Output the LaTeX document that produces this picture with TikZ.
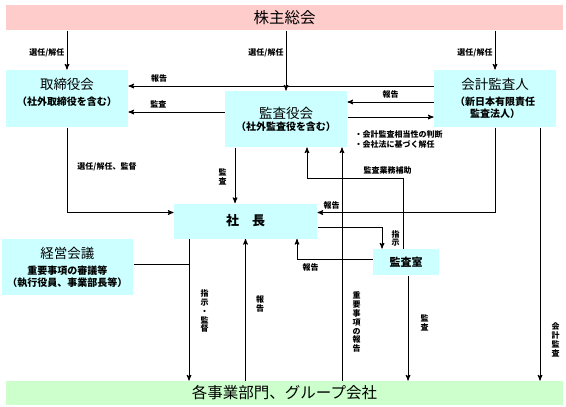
\documentclass[tikz,border=0pt]{standalone}
\usepackage{fontspec}
\setmainfont{Noto Sans CJK JP}
\usetikzlibrary{arrows}
\usetikzlibrary{positioning}
\definecolor{boxpink}{HTML}{FFCCCC}
\definecolor{boxcyan}{HTML}{CCFFFF}
\definecolor{boxgreen}{HTML}{CCFFCC}
\tikzset{
    box/.style={
           rectangle,
           fill=boxcyan,
           inner sep=2pt,
           align=center,
           text centered,
           },
    lbl/.style={
           font=\bfseries\fontsize{8}{10}\selectfont,
           inner sep=1pt,
           },
    vlbl/.style={
           font=\bfseries\fontsize{8}{8.8}\selectfont,
           align=center,
           inner sep=1pt,
           },
}

\begin{document}
\begin{tikzpicture}[->,>=stealth',x=1pt,y=-1pt,line width=1pt]
\useasboundingbox (0,0) rectangle (566,407);
  \node[box,
 fill=boxpink,
 minimum width=557pt,
 minimum height=25pt] (kabunushi) at (284.5,17.5)
 {\fontsize{15.5}{18}\selectfont 株主総会};
  \node[box,
 fill=boxgreen,
 minimum width=557pt,
 minimum height=24pt] (jigyo) at (284.5,393)
 {\fontsize{15.5}{18}\selectfont 各事業部門、グループ会社};
  \node[box,
 minimum width=122pt,
 minimum height=57pt] (torishimari) at (67,98.5)
 {%
  \fontsize{13.5}{16}\selectfont 取締役会\\[4pt]
  \bfseries\fontsize{10}{12}\selectfont （社外取締役を含む）\\[2pt]
 };
  \node[box,
 minimum width=122pt,
 minimum height=56pt] (kansayaku) at (286,119)
 {%
  \fontsize{13.5}{16}\selectfont 監査役会\\
  \bfseries\fontsize{10}{12}\selectfont （社外監査役を含む）
 };
  \node[box,
 minimum width=122pt,
 minimum height=57pt] (kaikei) at (495,98.5)
 {%
  \fontsize{13.5}{16}\selectfont 会計監査人\\[4pt]
  \bfseries\fontsize{10}{13}\selectfont （新日本有限責任\\
  \bfseries\fontsize{10}{13}\selectfont 監査法人）
 };
  \node[box,
 minimum width=143pt,
 minimum height=35pt] (shacho) at (245.5,221)
 {\bfseries\fontsize{13}{16}\selectfont 社　長};
  \node[box,
 minimum width=131pt,
 minimum height=56pt] (keiei) at (67.5,267)
 {%
  \fontsize{13.5}{16}\selectfont 経営会議\\[4pt]
  \bfseries\fontsize{10}{14}\selectfont 重要事項の審議等\\
  \bfseries\fontsize{10}{14}\selectfont （執行役員、事業部長等）
 };
  \node[box,
 minimum width=66pt,
 minimum height=26pt] (kansashitsu) at (406,262)
 {\bfseries\fontsize{11}{13}\selectfont 監査室};
  \node[lbl,
 align=left,
 anchor=north west] (hantei) at (353,129)
 {・会計監査相当性の判断\\・会社法に基づく解任};

 % branch points on the lines
 \coordinate (hojo) at (403,178);
 \coordinate (shiji) at ([xshift=-56.5pt]shacho.south);
 \coordinate (keiei-out) at ([yshift=3pt]keiei.east);
 \coordinate (juyo) at ([xshift=56pt]kansayaku.south);
 \coordinate (kaikei-out) at ([xshift=45pt]kaikei.south);

\path
  (kabunushi.south -| torishimari.north) edge
    node[lbl,pos=0.57,left=1pt] {選任/解任}
    (torishimari.north)
  (kabunushi.south -| kansayaku.north) edge
    node[lbl,pos=0.38,left=1pt] {選任/解任}
    (kansayaku.north)
  (kabunushi.south -| kaikei.north) edge
    node[lbl,pos=0.57,left=1pt] {選任/解任}
    (kaikei.north)
  ([yshift=12.5pt]kaikei.west) edge
    node[lbl,pos=0.9,above=2pt] {報告}
    ([yshift=12.5pt]torishimari.east)
  ([yshift=7pt]kansayaku.west) edge
    node[lbl,pos=0.69,above=2pt] {監査}
    ([yshift=-13.5pt]torishimari.east)
  ([yshift=-3.5pt]kaikei.west) edge
    node[lbl,pos=0.5,above=2pt] {報告}
    ([yshift=17pt]kansayaku.east)
  ([yshift=2pt]kansayaku.east) edge
    ([yshift=-18.5pt]kaikei.west)
  ([xshift=-51pt]kansayaku.south) edge
    node[vlbl,pos=0.53,left=7pt] {監\\査}
    ([xshift=-10.5pt]shacho.north)
  (shiji) edge
    node[vlbl,pos=0.51,right=10pt] {指\\示\\・\\監\\督}
    (shiji |- jigyo.north)
  (jigyo.north -| shacho.south) edge
    node[vlbl,pos=0.54,right=9pt] {報\\告}
    (shacho.south)
  (jigyo.north -| juyo) edge
    node[vlbl,pos=0.25,right=9pt] {重\\要\\事\\項\\の\\報\\告}
    (juyo)
  ([xshift=2pt]kansashitsu.south) edge
    node[vlbl,pos=0.45,right=11pt] {監\\査}
    ([xshift=2pt]kansashitsu.south |- jigyo.north)
  (kaikei-out) edge
    node[vlbl,pos=0.84,right=10pt] {会\\計\\監\\査}
    (kaikei-out |- jigyo.north)
 ;
 % bent lines
\draw (torishimari.south) |-
    node[lbl,pos=0.23,right=9pt] {選任/解任、監督}
    ([yshift=8.5pt]shacho.west);
\draw (kaikei.south) |-
    node[lbl,pos=0.96,above=2pt] {報告}
    ([yshift=8.5pt]shacho.east);
\draw ([yshift=-6.5pt]shacho.east) -|
    node[vlbl,pos=0.76,right=8pt] {指\\示}
    ([xshift=-24pt]kansashitsu.north);
\draw ([yshift=3pt]kansashitsu.west) -|
    node[lbl,pos=0.41,below=3pt] {報告}
    ([xshift=51.5pt]shacho.south);
\draw ([xshift=-3pt]kansashitsu.north) -- (hojo) -|
    node[lbl,pos=0.08,above=2pt] {監査業務補助}
    ([xshift=21pt]kansayaku.south);
\draw[-] (keiei-out) -- (keiei-out -| shiji);
\end{tikzpicture}
\end{document}
